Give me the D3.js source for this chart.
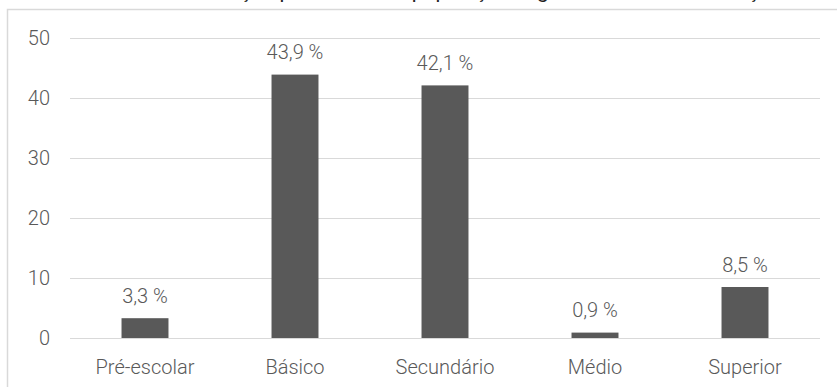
<!DOCTYPE html>
<html>
<head>
<meta charset="utf-8">
<script src="https://cdn.jsdelivr.net/npm/d3@7"></script>
<style>
  html, body { margin: 0; padding: 0; background: #fff; overflow: hidden; }
  svg text { font-family: Roboto, "Noto Sans", sans-serif; font-weight: 300; }
</style>
</head>
<body>
<svg id="chart" width="837" height="387"></svg>
<script>
// Nível de instrução (percentagem da população)
const categories = ["Pré-escolar", "Básico", "Secundário", "Médio", "Superior"];
const values = [3.3, 43.9, 42.1, 0.9, 8.5];
const yTicks = [0, 10, 20, 30, 40, 50];
const title = "Distribuição percentual da população segundo o nível de instrução";

const svg = d3.select("#chart");
const plot = { left: 70, right: 820, top: 38, bottom: 338 };

const textColor = "#595959";
const gridColor = "#d9d9d9";
const barColor = "#595959";
const fontSize = 20;

// chart frame (runs past the right and bottom edges)
svg.append("rect")
  .attr("x", 7.5).attr("y", 9.5)
  .attr("width", 900).attr("height", 400)
  .attr("fill", "none").attr("stroke", gridColor).attr("stroke-width", 1.5);

// title above the frame
const titleText = svg.append("text")
  .attr("y", -2.5)
  .attr("font-size", 21)
  .style("font-weight", 400)
  .attr("fill", "#222")
  .text(title);
const lead = svg.append("text").attr("font-size", 21).style("font-weight", 400).text("Distribui");
const leadW = lead.node().getComputedTextLength();
lead.remove();
titleText.attr("x", 240 - leadW);

const x = d3.scaleBand()
  .domain(categories)
  .range([plot.left, plot.right])
  .paddingInner(0.687)
  .paddingOuter(0.3435);

const y = d3.scaleLinear()
  .domain([0, 50])
  .range([plot.bottom, plot.top]);

// gridlines + y tick labels
const yAxis = d3.axisLeft(y).tickValues(yTicks)
  .tickSize(-(plot.right - plot.left)).tickPadding(20).tickFormat(d3.format("d"));
const gy = svg.append("g").attr("transform", `translate(${plot.left},0)`).call(yAxis);
gy.select(".domain").remove();
gy.selectAll(".tick line").attr("stroke", gridColor).attr("stroke-width", 1.2);
gy.selectAll(".tick text").attr("fill", textColor).attr("font-size", fontSize);

// bars
svg.append("g").selectAll("rect")
  .data(categories)
  .join("rect")
  .attr("x", d => x(d))
  .attr("width", x.bandwidth())
  .attr("y", (d, i) => y(values[i]))
  .attr("height", (d, i) => y(0) - y(values[i]))
  .attr("fill", barColor);

// value labels
svg.append("g").selectAll("text")
  .data(categories)
  .join("text")
  .attr("x", d => x(d) + x.bandwidth() / 2)
  .attr("y", (d, i) => y(values[i]) - 15.5)
  .attr("text-anchor", "middle")
  .attr("font-size", fontSize)
  .attr("fill", textColor)
  .text((d, i) => d3.format(".1f")(values[i]).replace(".", ",") + " %");

// category labels
const xAxis = d3.axisBottom(x).tickSize(0).tickPadding(22);
const gx = svg.append("g").attr("transform", `translate(0,${plot.bottom})`).call(xAxis);
gx.select(".domain").remove();
gx.selectAll(".tick text").attr("fill", textColor).attr("font-size", fontSize);
</script>
</body>
</html>
